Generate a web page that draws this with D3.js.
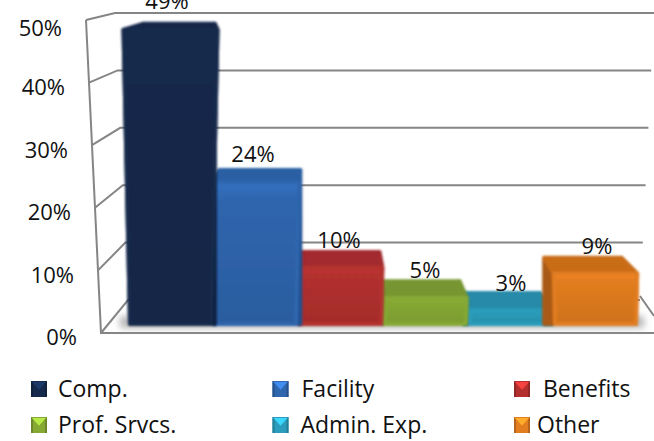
<!DOCTYPE html>
<html>
<head>
<meta charset="utf-8">
<script src="https://cdnjs.cloudflare.com/ajax/libs/d3/7.8.5/d3.min.js"></script>
<style>
  html, body { margin: 0; padding: 0; background: #fff; overflow: hidden; }
  text { font-family: "Open Sans", sans-serif; fill: #111; }
</style>
</head>
<body>
<svg id="chart" width="654" height="441"></svg>
<script>
var categories = ["Comp.", "Facility", "Benefits", "Prof. Srvcs.", "Admin. Exp.", "Other"];
var values = [49, 24, 10, 5, 3, 9];
var tickValues = [0, 10, 20, 30, 40, 50];
var frontColors = ["#14294c", "#2f66ae", "#b3302f", "#86a934", "#2b9cbb", "#e27d20"];
var topColors = ["#14284b", "#2a5ea3", "#a32b2d", "#779631", "#268aa8", "#c96c18"];
var sideColors = ["#10213f", "#21508e", "#8a2426", "#66842a", "#1f7690", "#a95a14"];

var svg = d3.select("#chart");

// wall corners lean because the chart is drawn in perspective
var yFront = d3.scaleLinear().domain([0, 50]).range([333, 20]);
var xFront = d3.scaleLinear().domain([0, 50]).range([101, 86]);
var yBack = d3.scaleLinear().domain([0, 50]).range([300, 13]);
var xBack = d3.scaleLinear().domain([0, 50]).range([128, 115]);
var xRight = d3.scaleLinear().domain([0, 50]).range([640, 654]);

var xBand = d3.scaleBand().domain(categories).range([128, 638]).padding(0);

// bar heights: back edge of the top face, and how deep that face looks
var yBarBase = 326;
var yBarBack = d3.scaleLinear().domain([0, 50]).range([308.5, 16]);
var topDepth = d3.scaleLinear().domain([0, 49]).range([20, 8]);
var yLabel = d3.scaleLinear().domain([0, 49]).range([309, 9]);
var xLabel = d3.scaleLinear().domain([170.5, 595.5]).range([167, 597]);

var spread = d3.scaleLinear().domain([0, 49]).range([1, 1.153]);
var vanishX = 342;

var line = d3.line();

var defs = svg.append("defs");
defs.append("filter").attr("id", "soft")
  .append("feGaussianBlur").attr("stdDeviation", 0.8);
defs.append("filter").attr("id", "shadowBlur")
  .attr("x", "-10%").attr("width", "120%")
  .attr("y", "-100%").attr("height", "300%")
  .append("feGaussianBlur").attr("stdDeviation", 3.5);

categories.forEach(function(c, i) {
  var g = defs.append("linearGradient")
      .attr("id", "front" + i)
      .attr("x1", 0).attr("y1", 0).attr("x2", 0).attr("y2", 1);
  g.append("stop").attr("offset", 0).attr("stop-color", d3.rgb(frontColors[i]).brighter(i === 0 ? 0 : 0.3));
  g.append("stop").attr("offset", 0.12).attr("stop-color", frontColors[i]);
  g.append("stop").attr("offset", 1).attr("stop-color", d3.rgb(frontColors[i]).darker(0.25));
});

// walls
var wall = svg.append("g")
    .attr("fill", "none")
    .attr("stroke", "#858585")
    .attr("stroke-width", 2);

wall.selectAll(".grid")
    .data(tickValues)
  .enter().append("path")
    .attr("class", "grid")
    .attr("d", function(d) {
      return line([[xFront(d), yFront(d)], [xBack(d), yBack(d)], [xRight(d), yBack(d)]]);
    });

wall.append("path")
    .attr("d", line([[xFront(50), yFront(50)], [xFront(0), yFront(0)], [654, yFront(0)]]));
wall.append("path")
    .attr("d", line([[xRight(0), yBack(0) - 4], [654, yBack(0) + 16]]));

// soft floor shadow
svg.append("rect")
    .attr("x", xBand.range()[0] - 8)
    .attr("y", yBarBase - 10)
    .attr("width", xBand.range()[1] - xBand.range()[0] + 14)
    .attr("height", 12)
    .attr("fill", "#b5b5b5")
    .attr("filter", "url(#shadowBlur)");

function barGeometry(i) {
  var x0 = xBand(categories[i]), w = xBand.bandwidth(), v = values[i];
  var c = x0 + w / 2;
  var half = w / 2 * spread(v);
  var backC = c + (vanishX - c) * 0.05;
  var backHalf = half * (i === 0 ? 0.77 : 0.93);
  return {
    base: [x0 + 2, x0 + w - 2],
    front: [c - half + 2, c + half - 2],
    back: [backC - backHalf + 2, backC + backHalf - 2],
    yBase: yBarBase - 2,
    yFront: yBarBack(v) + topDepth(v),
    yBack: yBarBack(v) + 2
  };
}

// short bars first so the tall ones sit over their neighbours
var order = d3.range(categories.length).sort(function(a, b) { return values[a] - values[b]; });

var bars = svg.selectAll(".bar")
    .data(order)
  .enter().append("g")
    .attr("class", "bar")
    .attr("filter", "url(#soft)")
    .attr("stroke-linejoin", "round")
    .attr("stroke-width", 4);

bars.each(function(i) {
  var b = barGeometry(i), g = d3.select(this);
  // left side, shows only when the back edge sits left of the front
  g.append("path")
      .attr("d", line([[b.back[0], b.yBack], [b.front[0], b.yFront], [b.base[0], b.yBase], [b.back[0], b.yBase]]) + "Z")
      .attr("fill", sideColors[i]).attr("stroke", sideColors[i]);
  // right side
  g.append("path")
      .attr("d", line([[b.back[1], b.yBack], [b.front[1], b.yFront], [b.base[1], b.yBase], [b.back[1], b.yBase]]) + "Z")
      .attr("fill", sideColors[i]).attr("stroke", sideColors[i]);
  // top face
  g.append("path")
      .attr("d", line([[b.back[0], b.yBack], [b.back[1], b.yBack], [b.front[1], b.yFront], [b.front[0], b.yFront]]) + "Z")
      .attr("fill", topColors[i]).attr("stroke", topColors[i]);
  // front face
  g.append("path")
      .attr("d", line([[b.front[0], b.yFront], [b.front[1], b.yFront], [b.base[1], b.yBase], [b.base[0], b.yBase]]) + "Z")
      .attr("fill", "url(#front" + i + ")").attr("stroke", frontColors[i]);
});

// value axis, tick labels follow the leaning wall
var yAxis = d3.axisLeft(yFront)
    .tickValues(tickValues)
    .tickSize(0)
    .tickFormat(function(d) { return d + "%"; });

var axisG = svg.append("g").call(yAxis);
axisG.select(".domain").remove();
axisG.selectAll(".tick text")
    .attr("x", function(d) { return xFront(d) - 24; })
    .attr("dy", function(d) { return d === 50 ? "0.7em" : "0.54em"; })
    .style("font-family", "\"Open Sans\", sans-serif")
    .style("font-size", "22px")
    .style("fill", "#111");
axisG.attr("font-family", null).attr("font-size", null);

// data labels
svg.selectAll(".value")
    .data(values)
  .enter().append("text")
    .attr("class", "value")
    .attr("x", function(d, i) { return xLabel(xBand(categories[i]) + xBand.bandwidth() / 2); })
    .attr("y", function(d) { return yLabel(d); })
    .attr("text-anchor", "middle")
    .style("font-size", "22px")
    .text(function(d) { return d + "%"; });

// legend
var legendX = d3.scalePoint().domain([0, 1, 2]).range([31, 514]);
var legendY = d3.scalePoint().domain([0, 1]).range([381, 417]);
var legendTextDx = [27, 29, 29, 27, 28, 23];
var sw = 16;

var legend = svg.selectAll(".legend")
    .data(categories)
  .enter().append("g")
    .attr("class", "legend")
    .attr("transform", function(d, i) {
      return "translate(" + legendX(i % 3) + "," + legendY(Math.floor(i / 3)) + ")";
    });

legend.each(function(d, i) {
  var g = d3.select(this), c = frontColors[i];
  var mid = [sw / 2, sw * 0.55];
  g.append("rect").attr("width", sw).attr("height", sw).attr("fill", c);
  g.append("path").attr("d", line([[0, 0], [0, sw], [2, sw], [2, 2]]) + "Z")
      .attr("fill", d3.rgb(c).darker(0.6));
  g.append("path").attr("d", line([[sw, 0], [sw, sw], [sw - 2, sw], [sw - 2, 2]]) + "Z")
      .attr("fill", d3.rgb(c).darker(0.6));
  g.append("path").attr("d", line([[1, 1], [sw - 1, 1], mid]) + "Z")
      .attr("fill", d3.rgb(c).brighter(0.9));
  g.append("text")
      .attr("x", legendTextDx[i])
      .attr("y", sw - 0.5)
      .style("font-size", "23px")
      .text(d);
});
</script>
</body>
</html>
